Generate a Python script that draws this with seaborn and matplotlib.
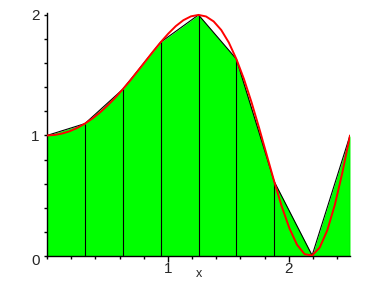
import matplotlib
matplotlib.use("Agg")
import matplotlib.pyplot as plt
import seaborn as sns
import pandas as pd
import numpy as np
from matplotlib.ticker import MultipleLocator

sns.set_style("white")
plt.rcParams['font.family'] = ['Liberation Sans', 'DejaVu Sans']

# Smooth red curve
curve_x = [0.0, 0.0627, 0.1253, 0.188, 0.2507, 0.3133, 0.376, 0.4386, 0.5013, 0.564,
           0.6266, 0.6893, 0.752, 0.8146, 0.8773, 0.94, 1.0026, 1.0653, 1.128, 1.1906,
           1.2533, 1.316, 1.3786, 1.4413, 1.504, 1.5666, 1.6293, 1.692, 1.7546, 1.8173,
           1.88, 1.9426, 2.0053, 2.068, 2.1306, 2.1933, 2.256, 2.3186, 2.3813, 2.444, 2.5066]
curve_y = [1.000, 1.004, 1.016, 1.035, 1.063, 1.098, 1.141, 1.191, 1.249, 1.313,
           1.383, 1.457, 1.536, 1.616, 1.696, 1.773, 1.844, 1.907, 1.956, 1.988,
           2.000, 1.987, 1.946, 1.875, 1.771, 1.634, 1.468, 1.275, 1.063, 0.840,
           0.617, 0.409, 0.230, 0.094, 0.015, 0.005, 0.070, 0.213, 0.425, 0.694, 1.000]

# Trapezoid nodes
node_x = [0.0, 0.3133, 0.6266, 0.94, 1.2533, 1.5666, 1.88, 2.1933, 2.5066]
node_y = [1.000, 1.098, 1.383, 1.773, 2.000, 1.634, 0.617, 0.005, 1.000]

curve = pd.DataFrame({"x": curve_x, "y": curve_y})
nodes = pd.DataFrame({"x": node_x, "y": node_y})

fig = plt.figure(figsize=(3.88, 2.88), dpi=100)
ax = fig.add_axes([47/388, 32/288, 303/388, 243.5/288])

ax.fill_between(nodes["x"], 0, nodes["y"], color="#00ff00", linewidth=0, zorder=1)
sns.lineplot(data=nodes, x="x", y="y", color="black", linewidth=0.8, ax=ax,
             sort=False, estimator=None, zorder=2)
ax.vlines(nodes["x"][1:], 0, nodes["y"][1:], color="black", linewidth=0.8, zorder=2)
sns.lineplot(data=curve, x="x", y="y", color="#ff0000", linewidth=1.4, ax=ax,
             sort=False, estimator=None, zorder=3)

ax.set_xlim(0, 2.5066)
ax.set_ylim(0, 2.02)
for s in ["top", "right"]:
    ax.spines[s].set_visible(False)
for s in ["left", "bottom"]:
    ax.spines[s].set_color("black")
    ax.spines[s].set_linewidth(1.0)

ax.xaxis.set_major_locator(MultipleLocator(1))
ax.xaxis.set_minor_locator(MultipleLocator(0.2))
ax.yaxis.set_major_locator(MultipleLocator(1))
ax.yaxis.set_minor_locator(MultipleLocator(0.2))
ax.tick_params(axis="x", which="major", direction="out", length=4, width=1, color="black",
               labelsize=11, pad=0.5, bottom=True)
ax.tick_params(axis="x", which="minor", direction="out", length=2.5, width=1, color="black", bottom=True)
ax.tick_params(axis="y", which="major", direction="out", length=2.5, width=1, color="black",
               labelsize=11, pad=3, left=True)
ax.tick_params(axis="y", which="minor", direction="out", length=2.5, width=1, color="black", left=True)

ax.set_xticks([1, 2])
ax.set_xticklabels(["1", "2"])
ax.set_yticks([1, 2])
ax.set_yticklabels(["1", "2"])
ax.set_xlabel("")
ax.set_ylabel("")
ax.text(-0.055, -0.04, "0", transform=ax.transData, ha="right", va="center", fontsize=11)
fig.text(199/388, 1 - 274/288, "x", ha="center", va="center", fontsize=9)

fig.savefig("out.png", dpi=100)
